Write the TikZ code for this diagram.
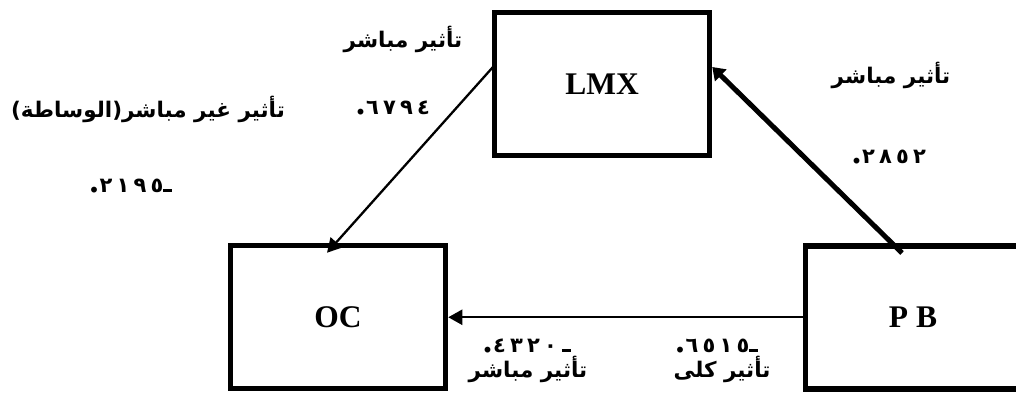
\documentclass[tikz,border=0pt]{standalone}
\usepackage{fontspec}
\setmainfont{Liberation Serif}
\newfontfamily\arabicfont[Script=Arabic]{DejaVu Sans}
\newfontfamily\digitfont[LetterSpace=20]{DejaVu Sans}
\TeXXeTstate=1
\usetikzlibrary{arrows.meta,calc}

\newcommand{\artext}[1]{{\arabicfont\bfseries\beginR #1\endR}}
\newcommand{\coef}[1]{{{\rmfamily\bfseries\fontsize{36}{36}\selectfont .}\hspace{1pt}\digitfont\bfseries #1}}
\newcommand{\minusbar}{\rule{9pt}{2.6pt}}

\begin{document}
\begin{tikzpicture}[x=1pt,y=-1pt,
  box/.style={draw, line width=5.5pt, minimum width=215pt, minimum height=143pt,
    inner sep=0pt, font=\bfseries\fontsize{31.5}{31.5}\selectfont},
  lbl/.style={anchor=base, inner sep=0pt, font=\fontsize{21.5}{24}\selectfont},
  val/.style={anchor=base, inner sep=0pt, font=\fontsize{21}{24}\selectfont},
  thinarrow/.style={line width=2.3pt, -{Triangle[length=14pt,width=15pt]}},
  thickarrow/.style={line width=5pt, -{Triangle[length=12pt,width=16pt]}},
]
\useasboundingbox (0,0) rectangle (1016,394);
\clip (0,0) rectangle (1016,394);

% the three constructs
\node[box] (LMX) at (602,84) {LMX};
\node[box] (OC)  at (338,317) {OC};
\node[box] (PB)  at (913,317.25) {P B};

% paths between them
\draw[thinarrow] ([shift={(3,-19)}]LMX.west) -- ([shift={(-11,10)}]OC.north);
\draw[thickarrow] ([shift={(-11,10)}]PB.north) -- ([shift={(0,-17)}]LMX.east);
\draw[thinarrow] (PB.west) -- (OC.east |- PB.west);

% effect labels and coefficients
\node[lbl] (t1) at (403,47) {\artext{تأثير مباشر}};
\node[val] (n1) at (393,114) {\coef{٦٧٩٤}};
\node[lbl] (t2) at (148,117) {\artext{تأثير غير مباشر(الوساطة)}};
\node[val] (n2) at (131,192) {\coef{٢١٩٥}\minusbar};
\node[lbl] (t3) at (891,83) {\artext{تأثير مباشر}};
\node[val] (n3) at (889,163) {\coef{٢٨٥٢}};
\node[val] (n4) at (527,352) {\coef{٤٣٢٠}\hspace{5pt}\minusbar};
\node[lbl] (t4) at (528,377) {\artext{تأثير مباشر}};
\node[val] (n5) at (717,352) {\coef{٦٥١٥}\minusbar};
\node[lbl] (t5) at (722,377) {\artext{تأثير كلى}};
\end{tikzpicture}
\end{document}
